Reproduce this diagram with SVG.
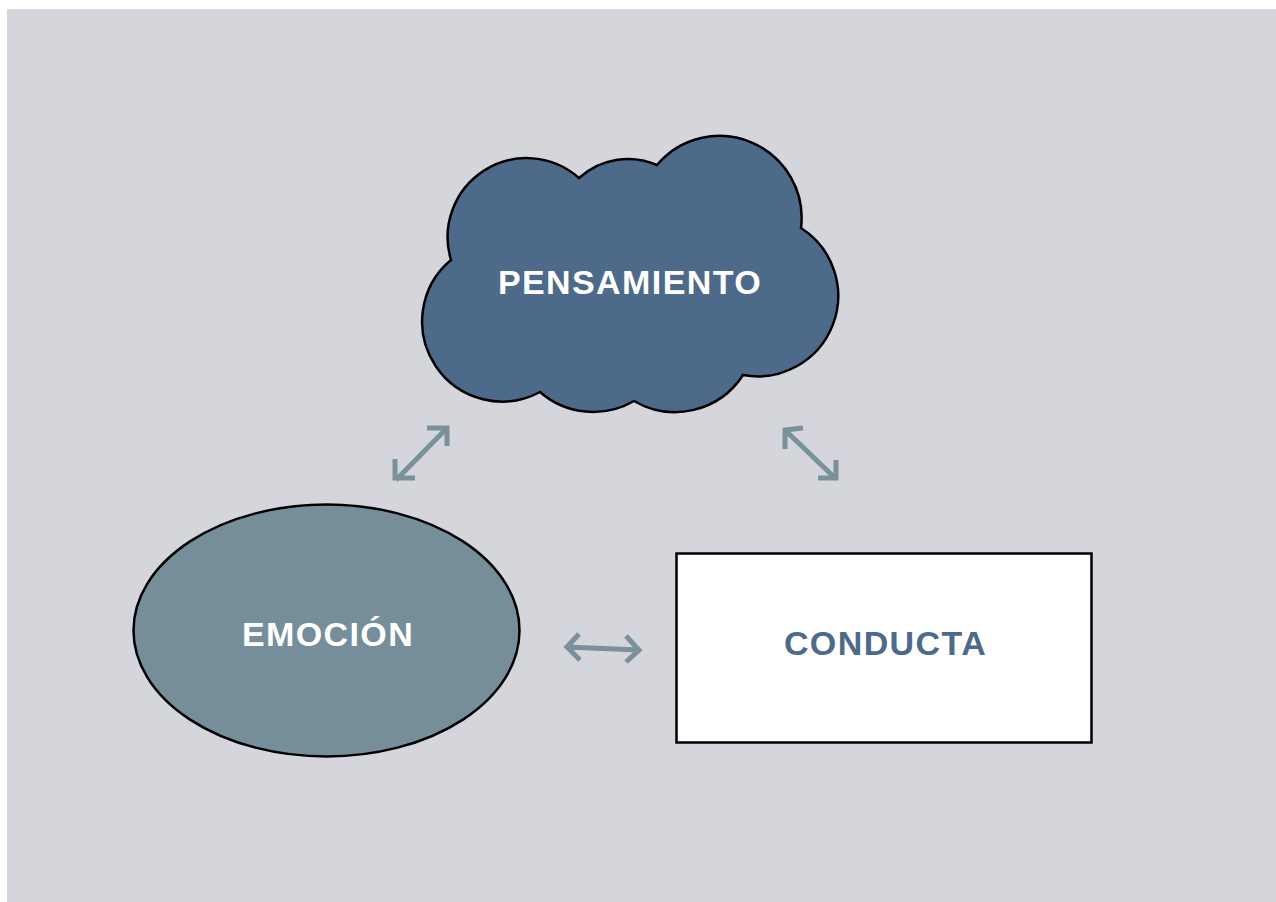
<svg xmlns="http://www.w3.org/2000/svg" width="1276" height="902" viewBox="0 0 1276 902">
<style>
.lbl{font-family:"Liberation Sans",Arial,sans-serif;font-weight:bold;font-size:34px;letter-spacing:1.4px;text-anchor:middle}
.shape{stroke:#000;stroke-width:2.5}
.conn{fill:none;stroke:#7a909b;stroke-width:5;stroke-linejoin:miter;stroke-linecap:butt}
</style>
<rect x="7" y="9" width="1269" height="893" fill="#d5d6dc"/>
<g id="pensamiento">
<path class="shape" fill="#4e6a8b" d="M451 260 A79 79 0 0 1 579 178 A73 73 0 0 1 657 165 A82 82 0 0 1 801 228 A80.5 80.5 0 0 1 743 375 A81 81 0 0 1 634 401 A81 81 0 0 1 540 392 A80 80 0 0 1 451 260 Z"/>
<text class="lbl" x="630" y="294" fill="#ffffff">PENSAMIENTO</text>
</g>
<g id="emocion">
<ellipse class="shape" cx="326.5" cy="630.5" rx="193" ry="126" fill="#758e9a"/>
<text class="lbl" x="328" y="646" fill="#ffffff">EMOCIÓN</text>
</g>
<g id="conducta">
<rect class="shape" x="676.5" y="553.5" width="415" height="189" fill="#ffffff"/>
<text class="lbl" x="885.5" y="655" fill="#4e6a8b">CONDUCTA</text>
</g>
<g id="connectors">
<path class="conn" d="M396 480 L447 428 M427 428 L447 428 L447 446 M395 459 L395 478 L415 478"/>
<path class="conn" d="M785 430 L836 479 M803 428 L785 430 L785 449 M818 478 L836 478 L836 460"/>
<path class="conn" d="M567 647 L639 650 M579 634 L567 647 L580 660 M626 636 L639 650 L626 662"/>
</g>
</svg>
